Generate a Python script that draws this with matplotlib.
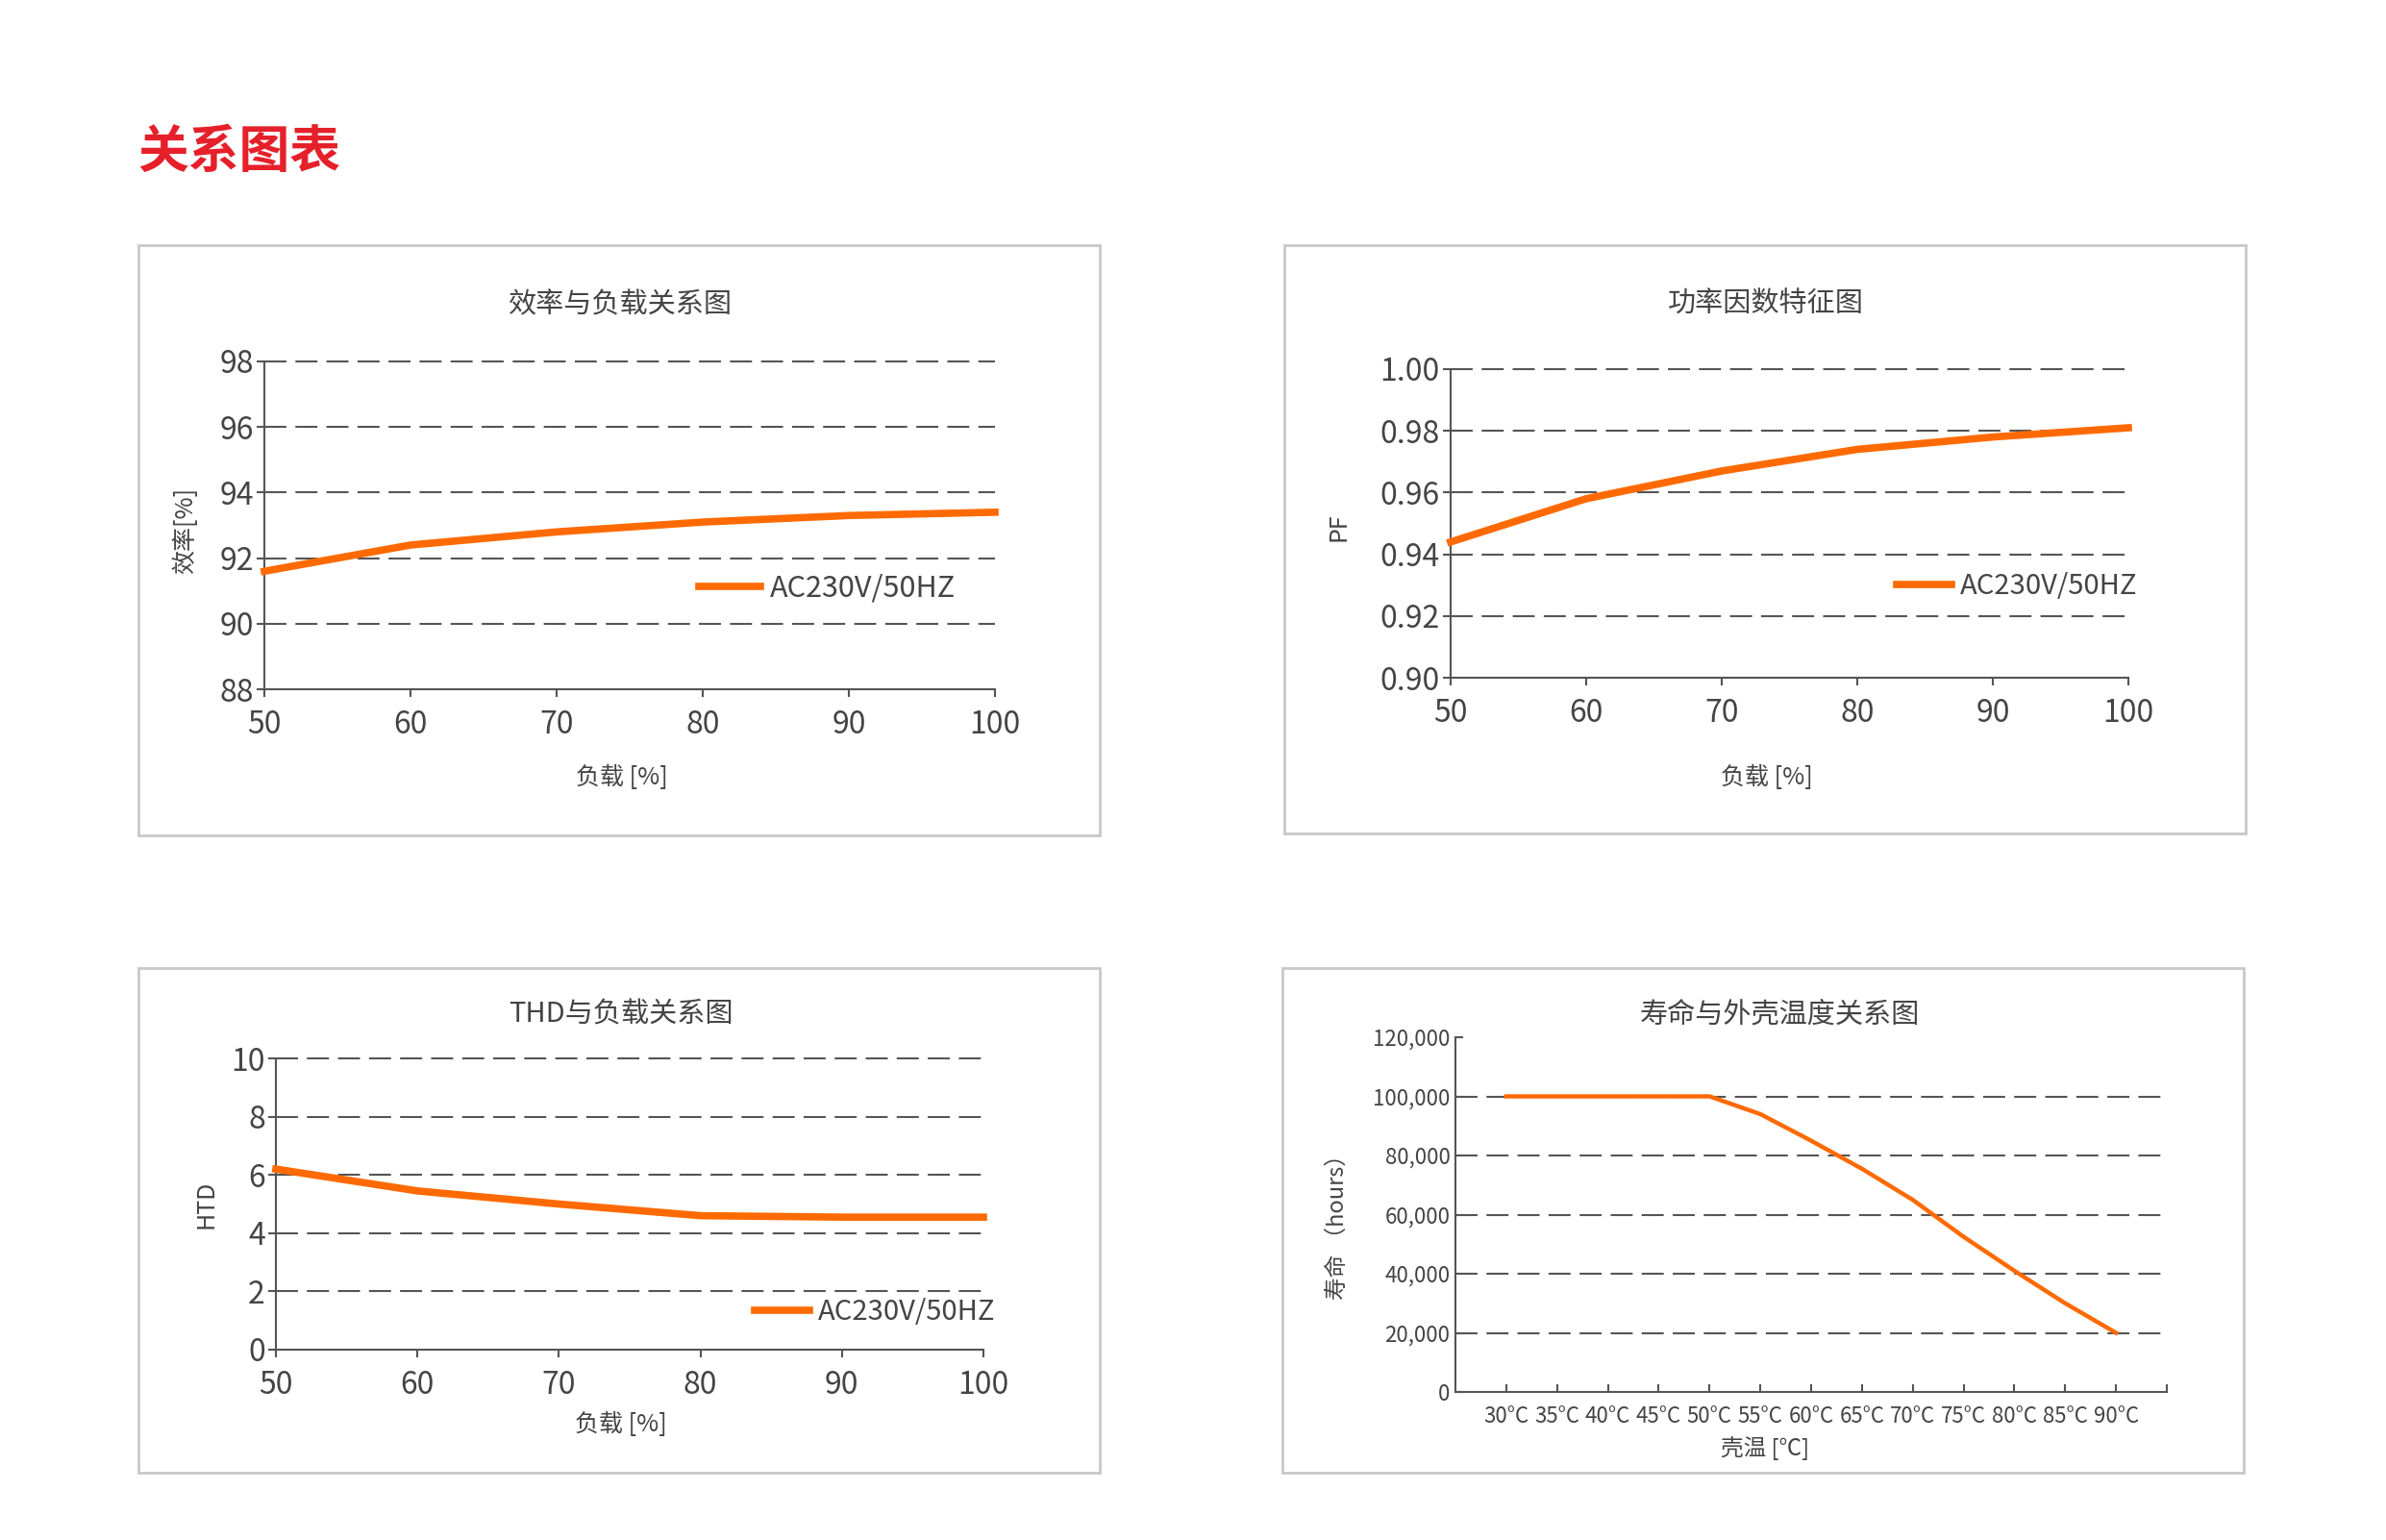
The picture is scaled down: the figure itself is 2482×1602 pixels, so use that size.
import matplotlib.pyplot as plt
from matplotlib.patches import Rectangle

plt.rcParams['font.family'] = ['Noto Sans CJK SC', 'DejaVu Sans']

W, H = 2482, 1602
ORANGE = '#ff6a00'
GRAY = '#555555'
TEXT = '#444444'
DASH = (0, (11, 4.5))

# data
load = [50, 60, 70, 80, 90, 100]
efficiency = [91.6, 92.4, 92.8, 93.1, 93.3, 93.4]
pf = [0.944, 0.958, 0.967, 0.974, 0.978, 0.981]
thd = [6.2, 5.45, 5.0, 4.6, 4.55, 4.55]
temps = ['30°C', '35°C', '40°C', '45°C', '50°C', '55°C', '60°C',
         '65°C', '70°C', '75°C', '80°C', '85°C', '90°C']
life = [100000, 100000, 100000, 100000, 100000, 94000, 85000,
        75500, 65000, 52500, 41000, 30000, 20000]

eff_ticks = [88, 90, 92, 94, 96, 98]
pf_ticks = [0.90, 0.92, 0.94, 0.96, 0.98, 1.00]
thd_ticks = [0, 2, 4, 6, 8, 10]
life_ticks = [0, 20000, 40000, 60000, 80000, 100000, 120000]

fig = plt.figure(figsize=(W / 100, H / 100), dpi=100)


def px_axes(x0, y0, x1, y1):
    return fig.add_axes([x0 / W, 1 - y1 / H, (x1 - x0) / W, (y1 - y0) / H])


def px_text(x, y, s, **kw):
    kw.setdefault('ha', 'center')
    kw.setdefault('va', 'center')
    kw.setdefault('color', TEXT)
    fig.text(x / W, 1 - y / H, s, **kw)


def box(x0, y0, x1, y1):
    fig.add_artist(Rectangle((x0 / W, 1 - y1 / H), (x1 - x0) / W, (y1 - y0) / H,
                             transform=fig.transFigure, fill=False,
                             ec='#c8c8c8', lw=2))


def style(ax, grid_vals, size=23, direction='out'):
    for s in ['top', 'right']:
        ax.spines[s].set_visible(False)
    for s in ['left', 'bottom']:
        ax.spines[s].set_color(GRAY)
        ax.spines[s].set_linewidth(1.5)
    ax.tick_params(colors=GRAY, labelcolor=TEXT, labelsize=size,
                   length=6, width=1.5, direction=direction)
    ax.tick_params(axis='y', pad=2)
    ax.tick_params(axis='x', pad=9)
    for v in grid_vals:
        ax.axhline(v, color=GRAY, lw=1.5, ls=DASH, zorder=1, clip_on=False)


px_text(143, 158, '关系图表', ha='left', fontsize=38, fontweight='bold',
        color='#e5202a')

box(144, 255, 1144, 869)
box(1336, 255, 2336, 867)
box(144, 1007, 1144, 1532)
box(1334, 1007, 2334, 1532)

# efficiency
ax1 = px_axes(275, 376, 1035, 717)
ax1.plot(load, efficiency, color=ORANGE, lw=5.5, label='AC230V/50HZ',
         zorder=3, clip_on=False)
ax1.set_xlim(50, 100)
ax1.set_ylim(88, 98)
ax1.set_xticks(load)
ax1.set_yticks(eff_ticks)
style(ax1, eff_ticks[1:])
ax1.legend(loc='center left', bbox_to_anchor=(0.595, 0.308), frameon=False,
           fontsize=22, handlelength=2.1, handletextpad=0.3, borderpad=0,
           borderaxespad=0, labelcolor=TEXT)
px_text(645, 317, '效率与负载关系图', fontsize=21)
px_text(647, 809, '负载 [%]', fontsize=18)
px_text(193, 552, '效率[%]', fontsize=18, rotation=90)

# power factor
ax2 = px_axes(1509, 384, 2214, 705)
ax2.plot(load, pf, color=ORANGE, lw=5.5, label='AC230V/50HZ',
         zorder=3, clip_on=False)
ax2.set_xlim(50, 100)
ax2.set_ylim(0.90, 1.00)
ax2.set_xticks(load)
ax2.set_yticks(pf_ticks)
ax2.set_yticklabels(['%.2f' % v for v in pf_ticks])
style(ax2, pf_ticks[1:])
ax2.legend(loc='center left', bbox_to_anchor=(0.658, 0.296), frameon=False,
           fontsize=21, handlelength=1.95, handletextpad=0.3, borderpad=0,
           borderaxespad=0, labelcolor=TEXT)
px_text(1837, 317, '功率因数特征图', fontsize=21)
px_text(1838, 809, '负载 [%]', fontsize=18)
px_text(1393, 548, 'PF', fontsize=18, rotation=90)

# THD
ax3 = px_axes(287, 1101, 1023, 1404)
ax3.plot(load, thd, color=ORANGE, lw=5.5, label='AC230V/50HZ',
         zorder=3, clip_on=False)
ax3.set_xlim(50, 100)
ax3.set_ylim(0, 10)
ax3.set_xticks(load)
ax3.set_yticks(thd_ticks)
style(ax3, thd_ticks[1:])
ax3.legend(loc='center left', bbox_to_anchor=(0.677, 0.129), frameon=False,
           fontsize=21, handlelength=1.95, handletextpad=0.3, borderpad=0,
           borderaxespad=0, labelcolor=TEXT)
px_text(646, 1056, 'THD与负载关系图', fontsize=21)
px_text(646, 1482, '负载 [%]', fontsize=18)
px_text(214, 1253, 'HTD', fontsize=18, rotation=90)

# life vs case temperature
ax4 = px_axes(1514, 1079, 2254, 1448)
pos = list(range(1, len(temps) + 1))
ax4.plot(pos, life, color=ORANGE, lw=3.2, zorder=3)
ax4.set_xlim(0, len(temps) + 1)
ax4.set_ylim(0, 120000)
ax4.set_xticks(pos + [len(temps) + 1])
ax4.set_xticklabels(temps + [''])
ax4.set_yticks(life_ticks)
ax4.set_yticklabels(['{:,}'.format(v) for v in life_ticks])
style(ax4, life_ticks[1:-1], size=16, direction='in')
ax4.tick_params(axis='x', pad=10)
ax4.tick_params(axis='y', pad=4)
px_text(1851, 1056, '寿命与外壳温度关系图', fontsize=21)
px_text(1836, 1507, '壳温 [℃]', fontsize=17)
px_text(1391, 1271, '寿命 （hours）', fontsize=17, rotation=90)

fig.savefig('out.png', dpi=100, facecolor='white')
